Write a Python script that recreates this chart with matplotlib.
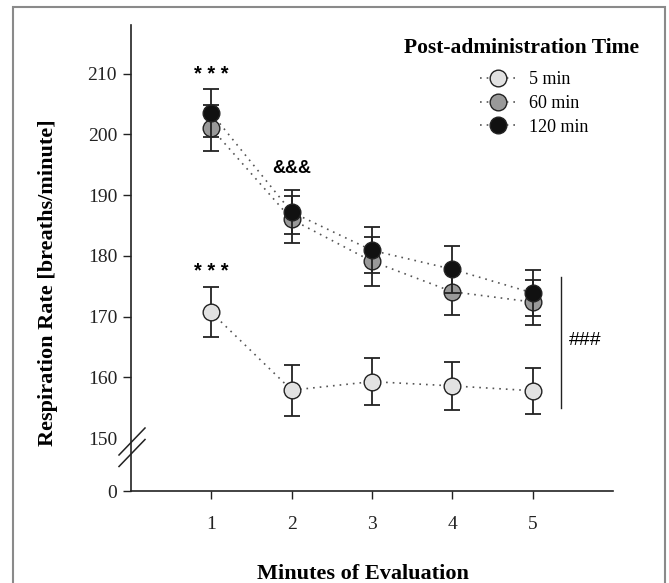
import matplotlib
matplotlib.use("Agg")
import matplotlib.pyplot as plt
import numpy as np
from matplotlib.lines import Line2D
from matplotlib.patches import Rectangle

plt.rcParams['font.family'] = ['Liberation Serif', 'DejaVu Serif']

# data: respiration rate (mean, sem) per minute of evaluation
minutes = [1, 2, 3, 4, 5]
rr_5 = [170.7, 157.9, 159.3, 158.6, 157.8]
sem_5 = [4.1, 4.2, 3.9, 4.0, 3.8]
rr_60 = [201.0, 186.0, 179.1, 174.1, 172.4]
sem_60 = [3.8, 3.8, 4.0, 3.9, 3.7]
rr_120 = [203.5, 187.2, 180.9, 177.8, 173.9]
sem_120 = [4.0, 3.6, 3.8, 3.9, 3.8]
series_labels = ['5 min', '60 min', '120 min']
face_colors = ['#e2e2e2', '#999999', '#111111']

# broken y axis: 0-150 squeezed into a short segment
BREAK = 150.0
SQUEEZE = 0.058


def fwd(y):
    y = np.asarray(y, dtype=float)
    return np.where(y >= BREAK, y, BREAK - (BREAK - y) * SQUEEZE)


def inv(y):
    y = np.asarray(y, dtype=float)
    return np.where(y >= BREAK, y, BREAK - (BREAK - y) / SQUEEZE)


fig = plt.figure(figsize=(6.69, 5.83), dpi=100)
ax = fig.add_axes([131 / 669, 1 - 491 / 583, (613 - 131) / 669, (491 - 25) / 583])
ax.set_yscale('function', functions=(fwd, inv))

all_rr = [rr_5, rr_60, rr_120]
all_sem = [sem_5, sem_60, sem_120]
for i, (rr, sem) in enumerate(zip(all_rr, all_sem)):
    z = 3 + i
    ax.plot(minutes, rr, linestyle=(0, (1, 3)), color='#555555', lw=1.2, zorder=2)
    ax.errorbar(minutes, rr, yerr=sem, fmt='none', ecolor='#222222', elinewidth=1.3,
                capsize=5.5, capthick=1.3, zorder=z)
    ax.plot(minutes, rr, 'o', ms=12, mfc=face_colors[i], mec='#222222', mew=1.0,
            linestyle='none', zorder=z + 0.5)

ax.set_xlim(0, 6)
ax.set_ylim(0, 218)
ax.set_xticks(minutes)
ax.set_yticks([0, 150, 160, 170, 180, 190, 200, 210])
ax.tick_params(axis='both', direction='out', length=6, width=1.0, labelsize=14,
               colors='#222222', pad=4)
ax.tick_params(axis='x', pad=12)
for s in ['top', 'right']:
    ax.spines[s].set_visible(False)
for s in ['left', 'bottom']:
    ax.spines[s].set_linewidth(1.2)
    ax.spines[s].set_color('#222222')
# hide the 150 tick mark (covered by the break)
ax.yaxis.get_major_ticks()[1].tick1line.set_visible(False)

ax.set_ylabel('Respiration Rate [breaths/minute]', fontsize=16, fontweight='bold')
ax.yaxis.label.set_va('center')
ax.yaxis.set_label_coords(-0.172, 0.446)
ax.set_xlabel('Minutes of Evaluation', fontsize=16, fontweight='bold')
ax.xaxis.label.set_va('center')
ax.xaxis.set_label_coords(0.481, -0.178)

# break marks on the y axis
for y0 in [455, 466.5]:
    fig.add_artist(Line2D([119 / 669, 145 / 669], [1 - y0 / 583, 1 - (y0 - 27) / 583],
                          color='#222222', lw=1.1))

# significance annotations
sig_font = ['Liberation Sans', 'DejaVu Sans']
ax.text(1, 209.8, '* * *', ha='center', va='center', fontsize=14.5, fontweight='bold',
        family=sig_font)
ax.text(1, 177.5, '* * *', ha='center', va='center', fontsize=14.5, fontweight='bold',
        family=sig_font)
ax.text(2, 194.4, '&&&', ha='center', va='center', fontsize=13, fontweight='bold',
        family=sig_font)
ax.plot([5.35, 5.35], [176.5, 155.0], color='#222222', lw=1.0, clip_on=False)
ax.text(5.45, 166.0, '###', ha='left', va='center', fontsize=14, family=sig_font)

# legend (title drawn separately so the entries can sit right of its centre)
fig.text(521 / 669, 1 - 48 / 583, 'Post-administration Time', ha='center', va='center',
         fontsize=15.5, fontweight='bold')
handles = [Line2D([0], [0], linestyle=(0, (1, 3)), color='#555555', lw=1.2, marker='o',
                  ms=12, mfc=c, mec='#222222', mew=1.0) for c in face_colors]
leg = fig.legend(handles, series_labels, loc='upper left',
                 bbox_to_anchor=(471 / 669, 1 - 62 / 583), frameon=False, fontsize=13,
                 borderpad=0, handlelength=2.0, handletextpad=0.7, labelspacing=0.38)

# outer frame around the whole figure
fig.add_artist(Rectangle((13 / 669, -0.05), (665 - 13) / 669, 1 + 0.05 - 7 / 583,
                         transform=fig.transFigure, fill=False, edgecolor='#8a8a8a',
                         lw=1.5))

fig.savefig('out.png', dpi=100)
